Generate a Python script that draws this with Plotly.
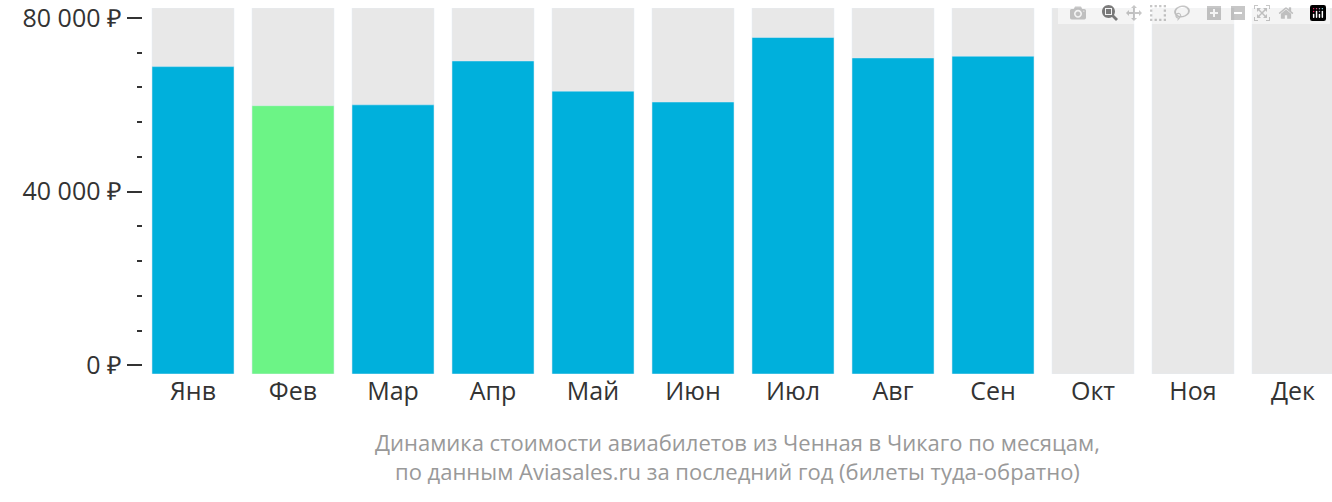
import plotly.graph_objects as go

months = ["Янв", "Фев", "Мар", "Апр", "Май", "Июн", "Июл", "Авг", "Сен", "Окт", "Ноя", "Дек"]
prices = [68800, 59800, 60000, 70100, 63150, 60650, 75500, 70800, 71200, None, None, None]
cheapest = "Фев"
y_ticks = [0, 40000, 80000]
y_labels = ["0 ₽", "40 000 ₽", "80 000 ₽"]

base = -2000
top = 82300
xs = list(range(len(months)))
colors = ["#6CF486" if m == cheapest else "#00B0DC" for m in months]

fig = go.Figure()
fig.add_bar(x=xs, y=[top - base] * len(months), base=base, marker_color="#E8E8E8",
            width=0.82, hoverinfo="skip")
fig.add_bar(x=xs, y=[(p - base) if p else None for p in prices], base=base,
            marker_color=colors, width=0.82)
fig.update_layout(
    width=1332, height=502, barmode="overlay", showlegend=False,
    margin=dict(l=143, r=0, t=0, b=128),
    plot_bgcolor="white", paper_bgcolor="white",
    font=dict(family="Open Sans", size=25, color="#333"),
    xaxis=dict(range=[-0.5, 11.39], tickvals=xs, ticktext=months, showgrid=False,
               zeroline=False, ticks="", tickfont=dict(size=25, color="#333")),
    yaxis=dict(range=[base, top], tickvals=y_ticks, ticktext=y_labels, showgrid=False,
               zeroline=False, ticks="outside", ticklen=15, tickwidth=2, tickcolor="#333",
               ticklabeloverflow="allow", tickfont=dict(size=25, color="#333"),
               minor=dict(tickvals=[8000, 16000, 24000, 32000, 48000, 56000, 64000, 72000],
                          ticks="outside", ticklen=5, tickwidth=2, tickcolor="#333")),
    annotations=[dict(x=0.5, y=-0.14, xref="paper", yref="paper", yanchor="top",
                      showarrow=False, align="center",
                      text="Динамика стоимости авиабилетов из Ченная в Чикаго по месяцам,<br>"
                           "по данным Aviasales.ru за последний год (билеты туда-обратно)",
                      font=dict(size=22, color="#999"))],
)
fig.write_html("out.html")

# drop the default page margin so the chart sits flush with the window
with open("out.html", encoding="utf-8") as f:
    html = f.read()
html = html.replace("<body>", '<body style="margin:0">', 1)
with open("out.html", "w", encoding="utf-8") as f:
    f.write(html)
